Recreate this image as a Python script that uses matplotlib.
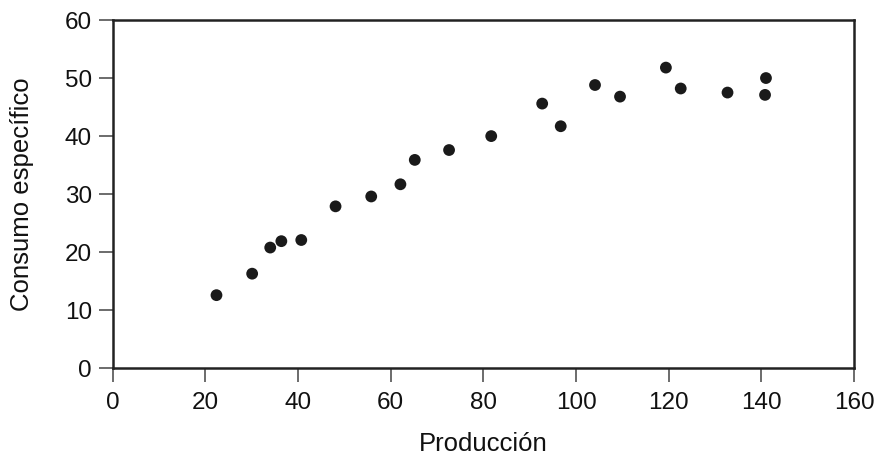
import matplotlib
matplotlib.use("Agg")
import matplotlib.pyplot as plt

produccion = [22.4, 30.1, 34.0, 36.4, 40.7, 48.1, 55.8, 62.1, 65.2, 72.6,
              81.7, 92.7, 96.7, 104.1, 109.5, 119.4, 122.6, 132.7, 141.0, 140.8]
consumo = [12.6, 16.3, 20.8, 21.9, 22.1, 27.9, 29.6, 31.7, 35.9, 37.6,
           40.0, 45.6, 41.7, 48.8, 46.8, 51.8, 48.2, 47.5, 50.0, 47.1]
xticks = [0, 20, 40, 60, 80, 100, 120, 140, 160]
yticks = [0, 10, 20, 30, 40, 50, 60]

plt.rcParams['font.family'] = ['Liberation Sans', 'DejaVu Sans']

fig = plt.figure(figsize=(8.77, 4.57), dpi=100)
ax = fig.add_axes([112.7/877, (457-368.3)/457, (854-112.7)/877, (368.3-20)/457])
ax.scatter(produccion, consumo, s=72, color='#1a1a1a', edgecolors='none', zorder=3)
ax.set_xlim(0, 160)
ax.set_ylim(0, 60)
ax.set_xticks(xticks)
ax.set_yticks(yticks)
for sp in ax.spines.values():
    sp.set_linewidth(1.8)
    sp.set_color('#222222')
ax.tick_params(axis='both', direction='out', length=10, width=1.1, color='#444444',
               labelsize=17.5, labelcolor='#111111')
ax.tick_params(axis='x', pad=7)
ax.tick_params(axis='y', pad=5)
ax.set_xlabel('Producción', fontsize=18.5, color='#111111', labelpad=13)
ax.set_ylabel('Consumo específico', fontsize=18.5, color='#111111', labelpad=22)
fig.savefig('out.png', dpi=100)
